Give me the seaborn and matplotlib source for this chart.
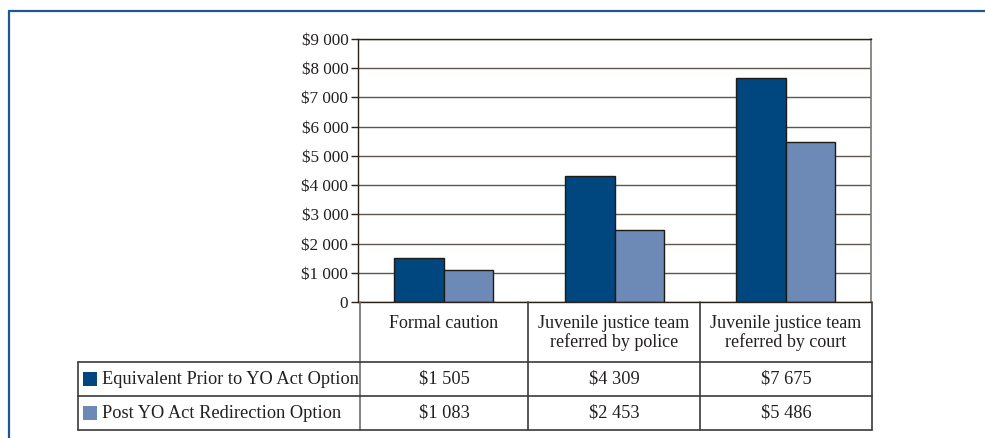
import pandas as pd
import seaborn as sns
import matplotlib.pyplot as plt
from matplotlib.lines import Line2D
from matplotlib.patches import Rectangle
from matplotlib.ticker import FuncFormatter

# Datos del gráfico
categories = ["Formal caution",
              "Juvenile justice team\nreferred by police",
              "Juvenile justice team\nreferred by court"]
options = ["Equivalent Prior to YO Act Option", "Post YO Act Redirection Option"]
prior_costs = [1505, 4309, 7675]
post_costs = [1083, 2453, 5486]
yticks = [0, 1000, 2000, 3000, 4000, 5000, 6000, 7000, 8000, 9000]

colors = {options[0]: "#00467f", options[1]: "#6c8ab5"}

df = pd.DataFrame({
    "Category": categories * 2,
    "Option": [options[0]] * 3 + [options[1]] * 3,
    "Cost": prior_costs + post_costs,
})

sns.set_style("white")
plt.rcParams["font.family"] = ["Liberation Serif", "DejaVu Serif"]

W, H = 985, 438
fig = plt.figure(figsize=(W / 100, H / 100), dpi=100)

# pixel -> coordenadas de figura
def px(x, y):
    return x / W, 1 - y / H

ax = fig.add_axes([358 / W, (H - 302) / H, (871 - 358) / W, (302 - 39) / H])

sns.barplot(data=df, x="Category", y="Cost", hue="Option", palette=colors,
            saturation=1, width=0.58, gap=0, edgecolor="#1e1a14", linewidth=1,
            legend=False, ax=ax)

ax.set_ylim(0, 9000)
ax.set_xlim(-0.5, 2.5)
ax.set_yticks(yticks)
ax.yaxis.set_major_formatter(FuncFormatter(
    lambda v, _: "0" if v == 0 else "$" + f"{v:,.0f}".replace(",", " ")))
ax.set_xticks([])
ax.set_xlabel("")
ax.set_ylabel("")
ax.tick_params(axis="y", direction="out", length=5, width=1, color="#2b2118",
               labelsize=12.3, labelcolor="#231f20", pad=2, left=True)
ax.yaxis.grid(True, color="#5e564a", linewidth=1)
ax.set_axisbelow(True)
for side in ["left", "top", "bottom"]:
    ax.spines[side].set_color("#2b2118")
    ax.spines[side].set_linewidth(1)
ax.spines["right"].set_color("#7a7670")
ax.spines["right"].set_linewidth(1.2)

# Tabla de datos debajo del gráfico
line_kw = dict(color="#3a3a3a", linewidth=1.2)

def hline(x0, x1, y):
    (a, b), (c, _) = px(x0, y), px(x1, y)
    fig.add_artist(Line2D([a, c], [b, b], transform=fig.transFigure, **line_kw))

def vline(x, y0, y1, color="#3a3a3a"):
    (a, b), (_, d) = px(x, y0), px(x, y1)
    fig.add_artist(Line2D([a, a], [b, d], transform=fig.transFigure,
                          color=color, linewidth=1.2))

col_edges = [360, 528, 700, 872]
vline(360, 302, 430, color="#6e6e6e")
for x in col_edges[1:]:
    vline(x, 302, 430)
vline(78, 362, 430)
for y in [362, 396, 430]:
    hline(78, 872, y)

for i, cat in enumerate(categories):
    cx = (col_edges[i] + col_edges[i + 1]) / 2
    fig.text(*px(cx, 314.5), cat, ha="center", va="top", fontsize=13,
             linespacing=1.13, color="#231f20")

for r, (opt, vals) in enumerate(zip(options, [prior_costs, post_costs])):
    cy = 379 + r * 34
    x0, y0 = px(83, cy + 7)
    fig.add_artist(Rectangle((x0, y0), 14 / W, 14 / H, transform=fig.transFigure,
                             facecolor=colors[opt], edgecolor="none"))
    fig.text(*px(102, cy), opt, ha="left", va="center", fontsize=13.2,
             color="#231f20")
    for i, v in enumerate(vals):
        cx = (col_edges[i] + col_edges[i + 1]) / 2
        fig.text(*px(cx, cy), "$" + f"{v:,.0f}".replace(",", " "),
                 ha="center", va="center", fontsize=13.2, color="#231f20")

# Marco azul exterior
border = "#1d5797"
fig.add_artist(Line2D([8 / W, 1], [1 - 10.5 / H] * 2, transform=fig.transFigure,
                      color=border, linewidth=1.6, solid_capstyle="butt"))
fig.add_artist(Line2D([9 / W] * 2, [1 - 10.5 / H, 0], transform=fig.transFigure,
                      color=border, linewidth=1.6, solid_capstyle="butt"))

fig.savefig("out.png", dpi=100)
